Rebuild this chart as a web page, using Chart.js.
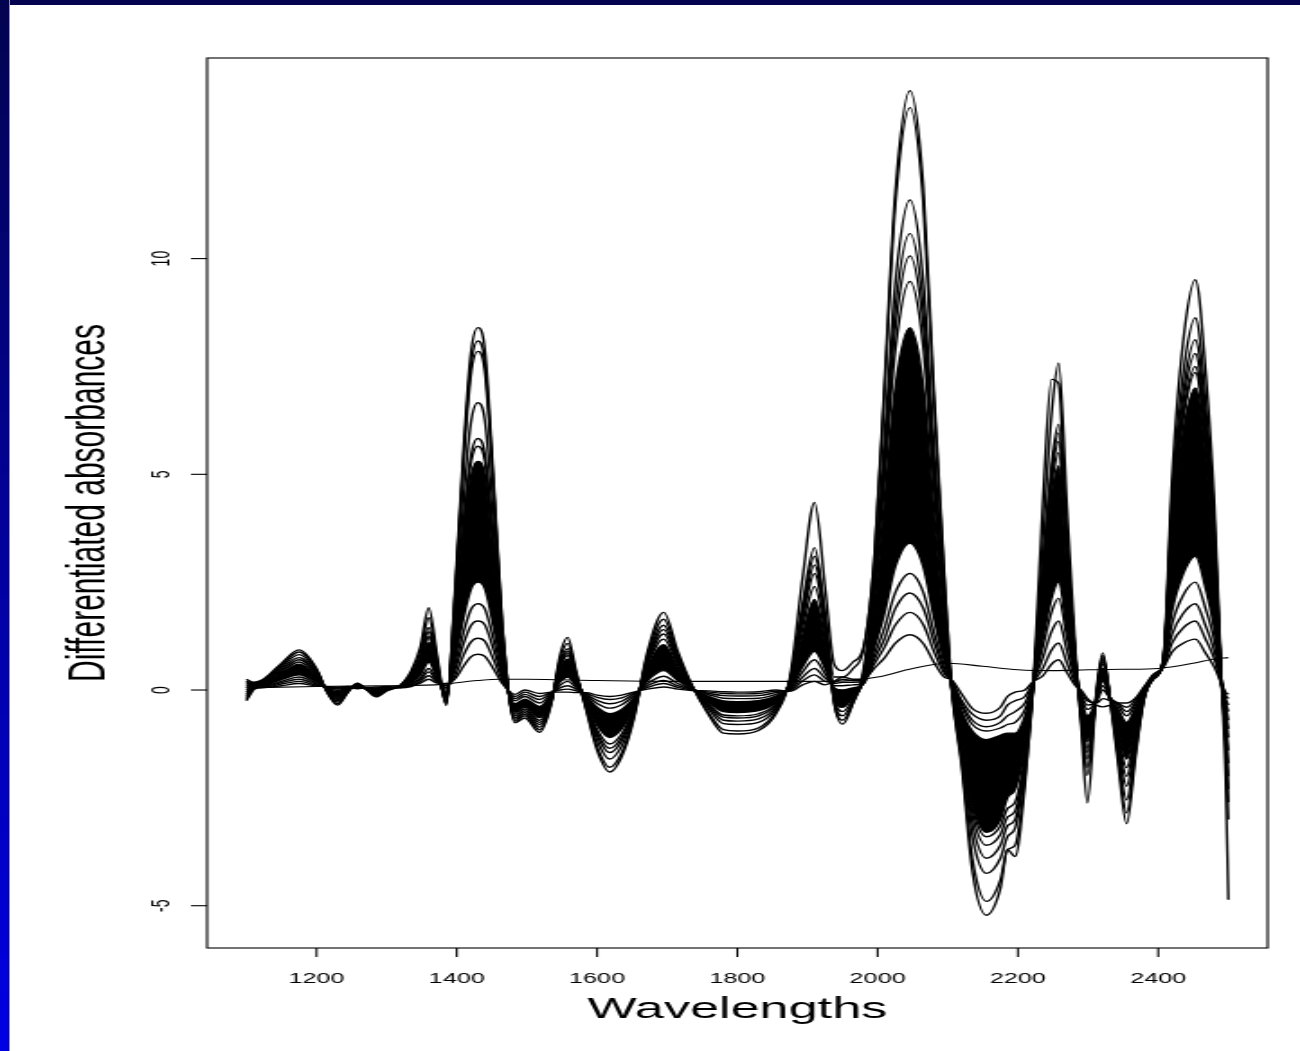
<!DOCTYPE html>
<html>
<head>
<meta charset="utf-8">
<title>Differentiated absorbances</title>
<script src="https://cdn.jsdelivr.net/npm/chart.js@4.4.1/dist/chart.umd.min.js"></script>
<style>
  html, body { margin: 0; padding: 0; background: #fff; overflow: hidden; }
  /* the original plot is stretched horizontally, so the chart is drawn narrow and scaled */
  #marco { position: absolute; left: 0; top: 0; width: 722px; height: 1051px; transform: scale(1.8006, 1); transform-origin: 0 0; }
  #bandaSup { position: absolute; left: 0; top: 0; width: 1300px; height: 5px; background: #03034f; z-index: 2; }
  #bandaIzq { position: absolute; left: 0; top: 0; width: 9px; height: 1051px; background: linear-gradient(#03034f, #0000e4); border-right: 1px solid #8c8cd6; z-index: 2; }
</style>
</head>
<body>
<div id="marco"><canvas id="grafica"></canvas></div>
<div id="bandaSup"></div>
<div id="bandaIzq"></div>
<script>
// --- Datos ---
const longitudes = [
  1100, 1110, 1130, 1150, 1175, 1200, 1215, 1230, 1245, 1258,
  1272, 1285, 1300, 1320, 1335, 1348, 1360, 1372, 1385, 1397,
  1410, 1420, 1430, 1440, 1452, 1465, 1483, 1497, 1518, 1535,
  1547, 1558, 1570, 1585, 1600, 1618, 1635, 1652, 1672, 1695,
  1715, 1735, 1760, 1780, 1800, 1830, 1855, 1875, 1893, 1910,
  1925, 1938, 1950, 1965, 1980, 1995, 2010, 2025, 2046, 2065,
  2080, 2095, 2105, 2120, 2135, 2155, 2175, 2185, 2196, 2210,
  2222, 2235, 2248, 2258, 2270, 2282, 2290, 2299, 2312, 2321,
  2332, 2342, 2355, 2368, 2380, 2393, 2407, 2420, 2435, 2453,
  2468, 2480, 2490, 2496, 2500
];

const s01 = [
  -0.25, 0.0, 0.32, 0.62, 0.93, 0.5, -0.05, -0.35, -0.05, 0.16,
  0.0, -0.16, -0.02, 0.12, 0.45, 1.0, 1.91, 0.8, -0.36, 2.2,
  5.7, 7.8, 8.4, 7.9, 5.0, 1.5, -0.76, -0.65, -0.98, -0.3,
  0.8, 1.22, 0.45, -0.5, -1.4, -1.9, -1.55, -0.7, 0.9, 1.8,
  0.9, 0.12, -0.6, -1.0, -1.02, -0.94, -0.55, 0.3, 2.6, 4.35,
  2.4, 0.6, 0.45, 0.65, 1.0, 3.0, 7.2, 11.5, 13.89, 11.7,
  7.0, 2.7, 0.1, -1.8, -4.2, -5.22, -4.6, -3.7, -3.86, -2.2,
  0.1, 3.4, 6.4, 7.58, 4.2, 0.9, -0.8, -2.62, 0.0, 0.86,
  -0.3, -1.6, -3.1, -1.5, -0.2, 0.25, 0.7, 5.0, 8.0, 9.51,
  7.3, 4.3, 0.3, -2.0, -4.86
];
const s02 = [
  0.25, 0.18, 0.3, 0.58, 0.88, 0.47, -0.04, -0.32, -0.04, 0.15,
  0.0, -0.14, -0.01, 0.11, 0.4, 0.88, 1.68, 0.7, -0.33, 2.1,
  5.5, 7.52, 8.09, 7.6, 4.85, 1.46, -0.72, -0.6, -0.92, -0.28,
  0.7, 1.08, 0.4, -0.47, -1.31, -1.79, -1.46, -0.65, 0.82, 1.64,
  0.82, 0.11, -0.55, -0.92, -0.95, -0.88, -0.5, 0.25, 2.0, 3.3,
  1.8, 0.3, 0.3, 0.5, 0.95, 3.0, 7.0, 11.2, 13.5, 11.3,
  6.75, 2.6, 0.12, -1.7, -3.9, -4.9, -4.4, -3.7, -3.6, -2.05,
  0.12, 4.2, 7.2, 7.1, 3.2, 0.6, -0.7, -1.98, -0.05, 0.8,
  -0.3, -1.45, -2.85, -1.4, -0.2, 0.25, 0.68, 4.6, 7.26, 8.63,
  6.62, 3.9, 0.3, -1.3, -3.0
];
const s03 = [
  0.2, 0.17, 0.28, 0.54, 0.82, 0.44, -0.03, -0.28, -0.03, 0.14,
  0.01, -0.12, 0.0, 0.11, 0.36, 0.76, 1.45, 0.6, -0.3, 2.04,
  5.34, 7.3, 7.85, 7.38, 4.71, 1.41, -0.68, -0.56, -0.86, -0.26,
  0.62, 0.96, 0.36, -0.42, -1.17, -1.6, -1.3, -0.58, 0.75, 1.5,
  0.75, 0.1, -0.46, -0.78, -0.8, -0.75, -0.44, 0.23, 1.86, 3.1,
  1.7, -0.3, -0.79, -0.3, 0.5, 2.6, 5.9, 9.4, 11.36, 9.5,
  5.7, 2.2, 0.12, -1.5, -3.4, -4.25, -3.9, -3.4, -3.2, -1.8,
  0.12, 2.77, 5.24, 6.16, 3.4, 0.75, -0.6, -1.8, -0.1, 0.75,
  -0.28, -1.3, -2.55, -1.25, -0.18, 0.26, 0.66, 4.36, 6.84, 8.12,
  6.23, 3.67, 0.28, -1.15, -2.6
];
const s04 = [
  0.15, 0.15, 0.26, 0.5, 0.75, 0.4, -0.02, -0.25, -0.02, 0.13,
  0.01, -0.1, 0.0, 0.1, 0.33, 0.71, 1.35, 0.56, -0.27, 1.73,
  4.53, 6.19, 6.66, 6.26, 4.0, 1.2, -0.64, -0.52, -0.8, -0.24,
  0.58, 0.9, 0.34, -0.38, -1.06, -1.45, -1.18, -0.53, 0.7, 1.4,
  0.7, 0.09, -0.41, -0.7, -0.72, -0.67, -0.4, 0.21, 1.74, 2.9,
  1.6, -0.3, -0.7, -0.3, 0.4, 2.4, 5.5, 8.8, 10.58, 8.9,
  5.3, 2.0, 0.14, -1.37, -3.1, -3.9, -3.6, -3.15, -3.0, -1.7,
  0.13, 2.68, 5.07, 5.96, 3.3, 0.72, -0.55, -1.6, -0.12, 0.7,
  -0.26, -1.15, -2.23, -1.1, -0.16, 0.27, 0.65, 4.2, 6.58, 7.8,
  5.99, 3.53, 0.28, -1.0, -2.3
];
const s05 = [
  0.1, 0.13, 0.24, 0.46, 0.7, 0.37, -0.01, -0.22, -0.01, 0.12,
  0.02, -0.09, 0.01, 0.1, 0.3, 0.66, 1.25, 0.52, -0.24, 1.52,
  3.96, 5.42, 5.83, 5.48, 3.5, 1.05, -0.6, -0.48, -0.75, -0.22,
  0.55, 0.85, 0.32, -0.35, -0.99, -1.35, -1.1, -0.49, 0.65, 1.3,
  0.65, 0.08, -0.37, -0.63, -0.65, -0.6, -0.36, 0.2, 1.62, 2.7,
  1.5, -0.25, -0.6, -0.25, 0.35, 2.3, 5.2, 8.35, 10.06, 8.45,
  5.0, 1.9, 0.14, -1.26, -2.88, -3.6, -3.35, -2.95, -2.8, -1.6,
  0.13, 2.6, 4.9, 5.76, 3.2, 0.7, -0.5, -1.45, -0.14, 0.65,
  -0.25, -1.03, -2.0, -1.0, -0.14, 0.28, 0.64, 4.05, 6.33, 7.5,
  5.76, 3.4, 0.27, -0.9, -2.0
];
const s06 = [
  0.05, 0.12, 0.22, 0.43, 0.65, 0.34, 0.0, -0.2, 0.0, 0.11,
  0.02, -0.08, 0.01, 0.09, 0.29, 0.64, 1.22, 0.5, -0.21, 1.47,
  3.84, 5.25, 5.65, 5.31, 3.39, 1.02, -0.56, -0.44, -0.7, -0.2,
  0.52, 0.8, 0.3, -0.33, -0.92, -1.25, -1.02, -0.45, 0.59, 1.18,
  0.59, 0.07, -0.34, -0.58, -0.6, -0.55, -0.33, 0.18, 1.44, 2.4,
  1.32, -0.2, -0.5, -0.2, 0.3, 2.2, 4.9, 7.85, 9.47, 7.95,
  4.7, 1.8, 0.15, -1.19, -2.72, -3.4, -3.15, -2.75, -2.6, -1.5,
  0.14, 2.48, 4.68, 5.5, 3.05, 0.66, -0.45, -1.35, -0.16, 0.6,
  -0.24, -0.93, -1.8, -0.9, -0.12, 0.28, 0.63, 3.98, 6.21, 7.36,
  5.65, 3.33, 0.26, -0.8, -1.7
];
const s07 = [
  0.0, 0.1, 0.2, 0.4, 0.6, 0.31, 0.01, -0.17, 0.01, 0.1,
  0.03, -0.07, 0.02, 0.09, 0.26, 0.58, 1.1, 0.45, -0.18, 1.38,
  3.6, 4.93, 5.3, 4.98, 3.18, 0.95, -0.52, -0.4, -0.64, -0.18,
  0.46, 0.72, 0.27, -0.3, -0.81, -1.1, -0.9, -0.4, 0.52, 1.05,
  0.52, 0.06, -0.3, -0.5, -0.52, -0.48, -0.29, 0.15, 1.26, 2.1,
  1.15, -0.15, -0.4, -0.15, 0.25, 2.0, 4.4, 7.0, 8.4, 7.05,
  4.2, 1.6, 0.16, -1.09, -2.6, -3.3, -3.0, -2.5, -2.3, -1.35,
  0.14, 2.34, 4.42, 5.2, 2.9, 0.6, -0.4, -1.2, -0.18, 0.5,
  -0.23, -0.83, -1.6, -0.8, -0.1, 0.29, 0.62, 3.8, 5.91, 7.0,
  5.37, 3.17, 0.25, -0.7, -1.4
];
const s08 = [
  -0.05, 0.08, 0.17, 0.34, 0.5, 0.26, 0.02, -0.12, 0.02, 0.09,
  0.03, -0.05, 0.03, 0.08, 0.23, 0.5, 0.95, 0.4, -0.13, 1.14,
  2.99, 4.09, 4.4, 4.14, 2.64, 0.79, -0.45, -0.33, -0.55, -0.15,
  0.35, 0.55, 0.2, -0.25, -0.66, -0.9, -0.73, -0.32, 0.42, 0.85,
  0.42, 0.05, -0.24, -0.4, -0.42, -0.39, -0.23, 0.12, 0.96, 1.6,
  0.88, -0.05, -0.25, -0.05, 0.2, 1.6, 3.4, 5.5, 6.6, 5.55,
  3.3, 1.25, 0.17, -0.88, -2.0, -2.5, -2.3, -2.05, -1.9, -1.1,
  0.15, 1.89, 3.57, 4.2, 2.35, 0.5, -0.35, -1.0, -0.2, 0.4,
  -0.22, -0.68, -1.3, -0.65, -0.08, 0.3, 0.6, 3.05, 4.67, 5.5,
  4.2, 2.5, 0.22, -0.55, -1.1
];
const s09 = [
  -0.1, 0.06, 0.15, 0.28, 0.42, 0.22, 0.03, -0.08, 0.03, 0.08,
  0.04, -0.03, 0.04, 0.08, 0.2, 0.43, 0.8, 0.34, -0.08, 0.94,
  2.45, 3.35, 3.6, 3.38, 2.16, 0.65, -0.38, -0.27, -0.46, -0.12,
  0.26, 0.42, 0.15, -0.2, -0.53, -0.72, -0.59, -0.25, 0.32, 0.65,
  0.32, 0.04, -0.19, -0.32, -0.34, -0.31, -0.18, 0.08, 0.72, 1.2,
  0.66, 0.0, -0.1, 0.0, 0.18, 1.3, 2.6, 4.15, 5.0, 4.2,
  2.5, 0.95, 0.18, -0.67, -1.52, -1.9, -1.75, -1.6, -1.5, -0.85,
  0.15, 1.49, 2.8, 3.3, 1.85, 0.4, -0.28, -0.8, -0.22, 0.3,
  -0.21, -0.53, -1.0, -0.5, -0.05, 0.3, 0.58, 2.4, 3.59, 4.2,
  3.18, 1.9, 0.2, -0.45, -0.9
];
const s10 = [
  -0.15, 0.04, 0.13, 0.24, 0.35, 0.18, 0.04, -0.04, 0.04, 0.07,
  0.04, -0.01, 0.05, 0.07, 0.17, 0.35, 0.65, 0.28, -0.03, 0.65,
  1.7, 2.33, 2.5, 2.35, 1.5, 0.45, -0.32, -0.21, -0.38, -0.1,
  0.18, 0.3, 0.1, -0.15, -0.4, -0.55, -0.45, -0.19, 0.22, 0.45,
  0.22, 0.03, -0.15, -0.25, -0.27, -0.25, -0.14, 0.05, 0.54, 0.9,
  0.5, 0.05, 0.0, 0.05, 0.15, 0.95, 1.8, 2.85, 3.4, 2.86,
  1.7, 0.65, 0.2, -0.5, -0.95, -1.15, -1.05, -1.0, -1.0, -0.6,
  0.16, 1.13, 2.13, 2.5, 1.4, 0.32, -0.2, -0.6, -0.24, 0.2,
  -0.2, -0.42, -0.75, -0.4, -0.02, 0.3, 0.56, 1.85, 2.67, 3.1,
  2.33, 1.4, 0.18, -0.35, -0.7
];
const s11 = [
  0.2, 0.12, 0.12, 0.2, 0.3, 0.15, 0.05, -0.01, 0.05, 0.06,
  0.05, 0.01, 0.05, 0.07, 0.14, 0.28, 0.5, 0.22, 0.02, 0.52,
  1.36, 1.86, 2.0, 1.88, 1.2, 0.36, -0.25, -0.15, -0.3, -0.08,
  0.11, 0.2, 0.06, -0.12, -0.31, -0.42, -0.34, -0.14, 0.15, 0.32,
  0.15, 0.02, -0.11, -0.19, -0.2, -0.19, -0.1, 0.03, 0.42, 0.7,
  0.38, 0.1, 0.1, 0.12, 0.15, 0.8, 1.45, 2.25, 2.7, 2.27,
  1.35, 0.52, 0.2, -0.39, -0.8, -0.95, -0.88, -0.8, -0.75, -0.45,
  0.16, 0.96, 1.81, 2.13, 1.2, 0.28, -0.15, -0.45, -0.25, 0.1,
  -0.2, -0.35, -0.6, -0.33, 0.0, 0.32, 0.55, 1.55, 2.18, 2.5,
  1.86, 1.15, 0.17, -0.28, -0.5
];
const s12 = [
  0.15, 0.1, 0.1, 0.17, 0.25, 0.13, 0.06, 0.02, 0.06, 0.05,
  0.05, 0.03, 0.06, 0.06, 0.12, 0.24, 0.42, 0.2, 0.06, 0.42,
  1.09, 1.49, 1.6, 1.51, 0.96, 0.29, -0.2, -0.1, -0.22, -0.06,
  0.05, 0.1, 0.02, -0.1, -0.24, -0.32, -0.26, -0.1, 0.1, 0.22,
  0.1, 0.01, -0.08, -0.13, -0.14, -0.13, -0.06, 0.01, 0.3, 0.5,
  0.28, 0.15, 0.18, 0.18, 0.2, 0.7, 1.2, 1.88, 2.25, 1.9,
  1.13, 0.45, 0.22, -0.32, -0.7, -0.85, -0.75, -0.6, -0.5, -0.3,
  0.17, 0.72, 1.36, 1.6, 0.9, 0.22, -0.1, -0.35, -0.27, 0.0,
  -0.2, -0.3, -0.5, -0.28, 0.02, 0.33, 0.54, 1.3, 1.76, 2.0,
  1.47, 0.9, 0.16, -0.2, -0.35
];
const s13 = [
  0.1, 0.08, 0.08, 0.14, 0.2, 0.11, 0.07, 0.04, 0.07, 0.04,
  0.06, 0.05, 0.07, 0.06, 0.1, 0.2, 0.33, 0.18, 0.1, 0.31,
  0.82, 1.11, 1.2, 1.13, 0.72, 0.21, -0.15, -0.05, -0.15, -0.05,
  0.0, 0.02, -0.02, -0.08, -0.17, -0.22, -0.18, -0.07, 0.06, 0.15,
  0.06, 0.0, -0.05, -0.08, -0.09, -0.08, -0.03, -0.01, 0.21, 0.35,
  0.2, 0.18, 0.25, 0.22, 0.22, 0.6, 1.0, 1.5, 1.8, 1.52,
  0.9, 0.38, 0.22, -0.25, -0.56, -0.7, -0.6, -0.35, -0.25, -0.15,
  0.18, 0.49, 0.93, 1.09, 0.62, 0.15, -0.05, -0.25, -0.3, -0.2,
  -0.25, -0.3, -0.4, -0.22, 0.05, 0.35, 0.53, 1.1, 1.43, 1.6,
  1.16, 0.72, 0.15, -0.12, -0.2
];
const s14 = [
  -0.2, 0.02, 0.06, 0.1, 0.15, 0.09, 0.08, 0.06, 0.08, 0.03,
  0.06, 0.07, 0.08, 0.05, 0.08, 0.16, 0.25, 0.16, 0.15, 0.25,
  0.56, 0.77, 0.83, 0.78, 0.5, 0.15, -0.1, 0.0, -0.08, -0.05,
  -0.05, -0.05, -0.06, -0.06, -0.12, -0.15, -0.12, -0.05, 0.02, 0.07,
  0.02, -0.01, -0.02, -0.04, -0.05, -0.04, 0.0, -0.03, 0.12, 0.2,
  0.12, 0.2, 0.3, 0.25, 0.25, 0.5, 0.75, 1.08, 1.28, 1.08,
  0.65, 0.3, 0.24, -0.1, -0.43, -0.54, -0.4, -0.15, -0.05, 0.0,
  0.2, 0.32, 0.6, 0.7, 0.4, 0.1, 0.0, -0.2, -0.35, -0.39,
  -0.35, -0.3, -0.3, -0.18, 0.08, 0.36, 0.52, 0.89, 1.08, 1.18,
  0.84, 0.53, 0.15, -0.05, -0.1
];

// curva casi plana que cruza todo el espectro
const planaWl  = [1100, 1200, 1300, 1380, 1400, 1430, 1460, 1500, 1600, 1700, 1800, 1900, 1960, 2000, 2050, 2100, 2150, 2200, 2250, 2300, 2350, 2400, 2450, 2480, 2500];
const planaAbs = [0.05, 0.08, 0.1, 0.13, 0.17, 0.22, 0.25, 0.25, 0.22, 0.2, 0.2, 0.2, 0.22, 0.3, 0.5, 0.62, 0.55, 0.47, 0.45, 0.47, 0.48, 0.5, 0.62, 0.72, 0.75];

const ticksX = [1200, 1400, 1600, 1800, 2000, 2200, 2400];
const ticksY = [-5, 0, 5, 10];

const espectros = [s01, s02, s03, s04, s05, s06, s07, s08, s09, s10, s11, s12, s13, s14];

// s07 a s10 es el nucleo denso: se rellena en negro
const datasets = espectros.map((serie, i) => ({
  data: serie.map((v, j) => ({ x: longitudes[j], y: v })),
  borderColor: '#000',
  backgroundColor: '#000',
  borderWidth: 1.4,
  pointRadius: 0,
  cubicInterpolationMode: 'monotone',
  fill: i === 6 ? 9 : false
}));

datasets.push({
  data: planaAbs.map((v, j) => ({ x: planaWl[j], y: v })),
  borderColor: '#000',
  borderWidth: 1.1,
  pointRadius: 0,
  cubicInterpolationMode: 'monotone',
  fill: false
});

// Ejes estilo R: caja, marcas y textos
const FUENTE = '"Liberation Sans", Arial, Helvetica, sans-serif';
const ejesR = {
  id: 'ejesR',
  afterDraw(chart) {
    const { ctx, chartArea: a, scales: { x, y } } = chart;
    ctx.save();
    ctx.strokeStyle = '#000';
    ctx.fillStyle = '#000';
    ctx.lineWidth = 1.1;
    ctx.strokeRect(a.left, a.top, a.right - a.left, a.bottom - a.top);

    ctx.font = '14px ' + FUENTE;
    ctx.textAlign = 'center';
    ctx.textBaseline = 'alphabetic';
    ticksX.forEach(v => {
      const px = x.getPixelForValue(v);
      ctx.beginPath(); ctx.moveTo(px, a.bottom); ctx.lineTo(px, a.bottom + 9); ctx.stroke();
      ctx.fillText(String(v), px, 983);
    });
    ticksY.forEach(v => {
      const py = y.getPixelForValue(v);
      ctx.beginPath(); ctx.moveTo(a.left - 9, py); ctx.lineTo(a.left, py); ctx.stroke();
      ctx.save();
      ctx.translate(93.5, py);
      ctx.rotate(-Math.PI / 2);
      ctx.fillText(String(v), 0, 0);
      ctx.restore();
    });

    ctx.font = '29px ' + FUENTE;
    ctx.fillText('Wavelengths', (a.left + a.right) / 2, 1018);

    ctx.save();
    ctx.translate(58.3, (a.top + a.bottom) / 2);
    ctx.rotate(-Math.PI / 2);
    ctx.font = '30px ' + FUENTE;
    ctx.fillText('Differentiated absorbances', 0, 0);
    ctx.restore();

    ctx.restore();
  }
};

new Chart(document.getElementById('grafica'), {
  type: 'line',
  data: { datasets },
  options: {
    responsive: true,
    maintainAspectRatio: false,
    animation: false,
    layout: { padding: { left: 115, right: 18, top: 58, bottom: 103 } },
    scales: {
      x: { type: 'linear', min: 1044, max: 2556, display: false },
      y: { type: 'linear', min: -5.98, max: 14.65, display: false }
    },
    plugins: { legend: { display: false }, tooltip: { enabled: false } },
    elements: { point: { radius: 0 } }
  },
  plugins: [ejesR]
});
</script>
</body>
</html>
